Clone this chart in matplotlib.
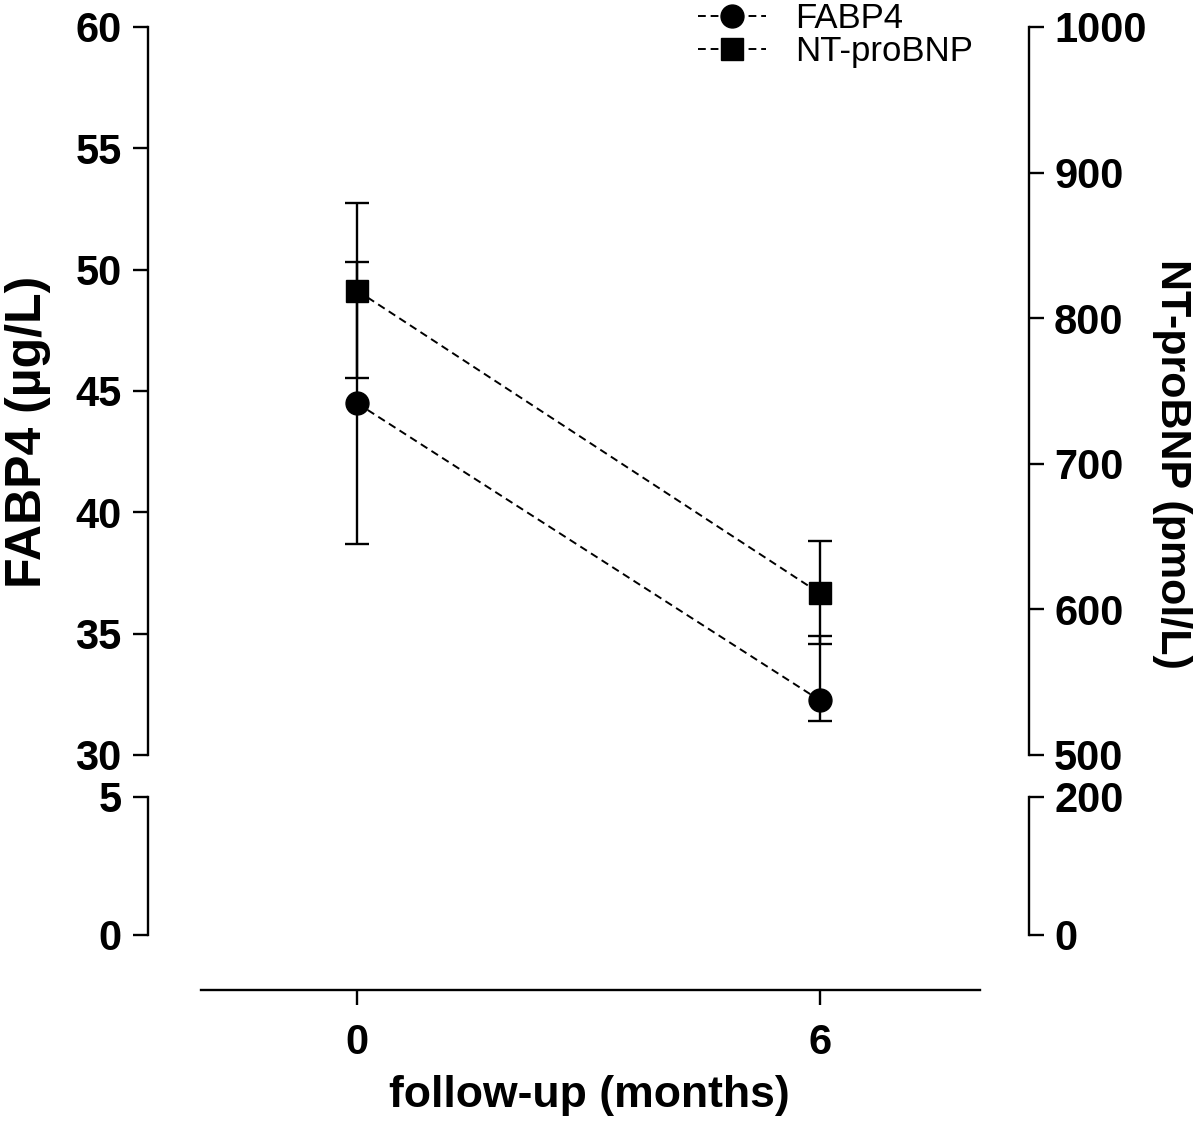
import matplotlib
matplotlib.use("Agg")
import matplotlib.pyplot as plt
from matplotlib.lines import Line2D

# ---- data ----
months = [0, 6]
fabp4 = [44.5, 32.25]
fabp4_low = [38.7, 31.4]
fabp4_high = [50.3, 34.9]
ntprobnp = [819, 611]
ntprobnp_low = [759, 576]
ntprobnp_high = [879, 647]

left_ticks_upper = [30, 35, 40, 45, 50, 55, 60]
left_ticks_lower = [0, 5]
right_ticks_upper = [500, 600, 700, 800, 900, 1000]
right_ticks_lower = [0, 200]
x_ticks = [0, 6]

plt.rcParams['font.family'] = ['Liberation Sans', 'DejaVu Sans']

W, H = 1200, 1121
fig = plt.figure(figsize=(W / 100, H / 100), dpi=100)


def rect(l, t, r, b):
    return [l / W, 1 - b / H, (r - l) / W, (b - t) / H]


ax_up = fig.add_axes(rect(148, 27, 1029, 755))
ax_lo = fig.add_axes(rect(148, 797, 1029, 990))
ax_up_r = ax_up.twinx()
ax_lo_r = ax_lo.twinx()

# x scale: 0 at px 357, 6 at px 820
ppm = (820 - 357) / 6.0
xlim = ((148 - 357) / ppm, (1029 - 357) / ppm)
for a in (ax_up, ax_lo, ax_up_r, ax_lo_r):
    a.set_xlim(*xlim)
    a.patch.set_visible(False)
    for s in a.spines.values():
        s.set_visible(False)
        s.set_linewidth(1.7)

ax_up.set_ylim(30, 60)
ax_up_r.set_ylim(500, 1000)
# lower: 5 at 797, 0 at 935, bottom 990
lo_scale = (935 - 797) / 5.0
ax_lo.set_ylim(-(990 - 935) / lo_scale, 5)
lo_r_scale = (935 - 797) / 200.0
ax_lo_r.set_ylim(-(990 - 935) / lo_r_scale, 200)

ax_up.spines['left'].set_visible(True)
ax_lo.spines['left'].set_visible(True)
ax_lo.spines['left'].set_bounds(0, 5)
ax_lo.spines['bottom'].set_visible(True)
ax_lo.spines['bottom'].set_bounds((201 - 357) / ppm, (980 - 357) / ppm)
ax_up_r.spines['right'].set_visible(True)
ax_lo_r.spines['right'].set_visible(True)
ax_lo_r.spines['right'].set_bounds(0, 200)

TS = 30
ax_up.set_yticks(left_ticks_upper)
ax_lo.set_yticks(left_ticks_lower)
ax_up_r.set_yticks(right_ticks_upper)
ax_lo_r.set_yticks(right_ticks_lower)
ax_lo.set_xticks(x_ticks)
ax_up.set_xticks([])
ax_up_r.set_xticks([])
ax_lo_r.set_xticks(x_ticks)

for a in (ax_up, ax_lo):
    a.tick_params(axis='y', direction='out', length=11, width=1.7, pad=8,
                  labelsize=TS)
for a in (ax_up_r, ax_lo_r):
    a.tick_params(axis='y', direction='out', length=11, width=1.7, pad=7,
                  labelsize=TS)
ax_lo.tick_params(axis='x', direction='out', length=11, width=1.7, pad=13,
                  labelsize=TS)
ax_lo_r.tick_params(axis='x', bottom=False, labelbottom=False)
for a in (ax_up, ax_lo, ax_up_r, ax_lo_r):
    for lab in a.get_xticklabels() + a.get_yticklabels():
        lab.set_fontweight('bold')

dash = (4, 2.5)
ebkw = dict(color='black', ecolor='black', elinewidth=1.7, capsize=8.5,
            capthick=1.7, linestyle=(0, dash), linewidth=1.4, markersize=16.5,
            zorder=3)

ax_up.errorbar(months, fabp4,
               yerr=[[m - l for m, l in zip(fabp4, fabp4_low)],
                     [h - m for m, h in zip(fabp4, fabp4_high)]],
               marker='o', **ebkw)
ax_up_r.errorbar(months, ntprobnp,
                 yerr=[[m - l for m, l in zip(ntprobnp, ntprobnp_low)],
                       [h - m for m, h in zip(ntprobnp, ntprobnp_high)]],
                 marker='s', **dict(ebkw, markersize=16))

ax_up.set_ylabel('FABP4 (µg/L)', fontsize=36, fontweight='bold',
                 va='center')
ax_up.yaxis.set_label_coords((28 - 148) / 881, (755 - 432) / 728)
ax_up_r.set_ylabel('NT-proBNP (pmol/L)', fontsize=31, fontweight='bold',
                   rotation=270, va='center')
ax_up_r.yaxis.set_label_coords((1172 - 148) / 881, (755 - 464) / 728)
ax_lo.set_xlabel('follow-up (months)', fontsize=32, fontweight='bold')
ax_lo.xaxis.set_label_coords((589 - 148) / 881, (990 - 1096) / 193)
ax_lo.xaxis.label.set_va('center')

handles = [
    Line2D([], [], color='black', linestyle=(0, dash), linewidth=1.4,
           marker='o', markersize=16.5),
    Line2D([], [], color='black', linestyle=(0, dash), linewidth=1.4,
           marker='s', markersize=16),
]
fig.legend(handles, ['FABP4', 'NT-proBNP'], loc='upper left',
           bbox_to_anchor=(698 / W, 1 - 2 / H), frameon=False,
           fontsize=25, handlelength=1.95, handletextpad=0.85,
           labelspacing=0.0, borderpad=0, borderaxespad=0, numpoints=1)

fig.savefig('out.png', dpi=100)
